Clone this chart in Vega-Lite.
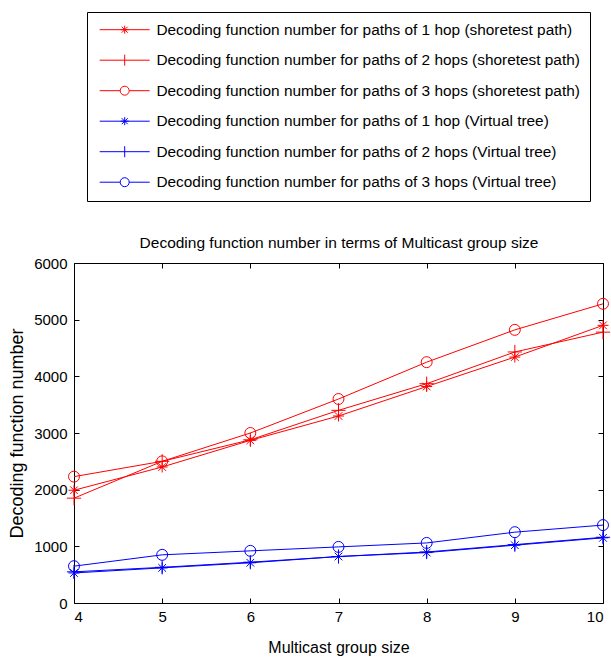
{
  "$schema": "https://vega.github.io/schema/vega-lite/v6.json",
  "width": 529,
  "height": 340,
  "autosize": {"type": "none"},
  "padding": {"left": 74, "top": 263, "right": 8, "bottom": 57},
  "background": "white",
  "config": {
    "font": "Liberation Sans",
    "view": {"stroke": "black", "strokeWidth": 1},
    "axis": {
      "grid": false,
      "domain": false,
      "tickColor": "black",
      "tickSize": -5,
      "labelColor": "black",
      "titleColor": "black",
      "labelFontSize": 15,
      "titleFontSize": 16,
      "titleFontWeight": "normal",
      "labelFont": "Liberation Sans",
      "titleFont": "Liberation Sans"
    }
  },
  "data": {
    "values": [
      {"s": "Decoding function number for paths of 1 hop (shoretest path)", "hops": 1, "n": 4, "v": 1990},
      {"s": "Decoding function number for paths of 1 hop (shoretest path)", "hops": 1, "n": 5, "v": 2400},
      {"s": "Decoding function number for paths of 1 hop (shoretest path)", "hops": 1, "n": 6, "v": 2870},
      {"s": "Decoding function number for paths of 1 hop (shoretest path)", "hops": 1, "n": 7, "v": 3300},
      {"s": "Decoding function number for paths of 1 hop (shoretest path)", "hops": 1, "n": 8, "v": 3820},
      {"s": "Decoding function number for paths of 1 hop (shoretest path)", "hops": 1, "n": 9, "v": 4340},
      {"s": "Decoding function number for paths of 1 hop (shoretest path)", "hops": 1, "n": 10, "v": 4900},
      {"s": "Decoding function number for paths of 2 hops (shoretest path)", "hops": 2, "n": 4, "v": 1850},
      {"s": "Decoding function number for paths of 2 hops (shoretest path)", "hops": 2, "n": 5, "v": 2500},
      {"s": "Decoding function number for paths of 2 hops (shoretest path)", "hops": 2, "n": 6, "v": 2880},
      {"s": "Decoding function number for paths of 2 hops (shoretest path)", "hops": 2, "n": 7, "v": 3400},
      {"s": "Decoding function number for paths of 2 hops (shoretest path)", "hops": 2, "n": 8, "v": 3870},
      {"s": "Decoding function number for paths of 2 hops (shoretest path)", "hops": 2, "n": 9, "v": 4430},
      {"s": "Decoding function number for paths of 2 hops (shoretest path)", "hops": 2, "n": 10, "v": 4780},
      {"s": "Decoding function number for paths of 3 hops (shoretest path)", "hops": 3, "n": 4, "v": 2230},
      {"s": "Decoding function number for paths of 3 hops (shoretest path)", "hops": 3, "n": 5, "v": 2500},
      {"s": "Decoding function number for paths of 3 hops (shoretest path)", "hops": 3, "n": 6, "v": 3000},
      {"s": "Decoding function number for paths of 3 hops (shoretest path)", "hops": 3, "n": 7, "v": 3600},
      {"s": "Decoding function number for paths of 3 hops (shoretest path)", "hops": 3, "n": 8, "v": 4250},
      {"s": "Decoding function number for paths of 3 hops (shoretest path)", "hops": 3, "n": 9, "v": 4820},
      {"s": "Decoding function number for paths of 3 hops (shoretest path)", "hops": 3, "n": 10, "v": 5280},
      {"s": "Decoding function number for paths of 1 hop (Virtual tree)", "hops": 1, "n": 4, "v": 530},
      {"s": "Decoding function number for paths of 1 hop (Virtual tree)", "hops": 1, "n": 5, "v": 620},
      {"s": "Decoding function number for paths of 1 hop (Virtual tree)", "hops": 1, "n": 6, "v": 710},
      {"s": "Decoding function number for paths of 1 hop (Virtual tree)", "hops": 1, "n": 7, "v": 820},
      {"s": "Decoding function number for paths of 1 hop (Virtual tree)", "hops": 1, "n": 8, "v": 890},
      {"s": "Decoding function number for paths of 1 hop (Virtual tree)", "hops": 1, "n": 9, "v": 1020},
      {"s": "Decoding function number for paths of 1 hop (Virtual tree)", "hops": 1, "n": 10, "v": 1150},
      {"s": "Decoding function number for paths of 2 hops (Virtual tree)", "hops": 2, "n": 4, "v": 550},
      {"s": "Decoding function number for paths of 2 hops (Virtual tree)", "hops": 2, "n": 5, "v": 630},
      {"s": "Decoding function number for paths of 2 hops (Virtual tree)", "hops": 2, "n": 6, "v": 720},
      {"s": "Decoding function number for paths of 2 hops (Virtual tree)", "hops": 2, "n": 7, "v": 820},
      {"s": "Decoding function number for paths of 2 hops (Virtual tree)", "hops": 2, "n": 8, "v": 900},
      {"s": "Decoding function number for paths of 2 hops (Virtual tree)", "hops": 2, "n": 9, "v": 1030},
      {"s": "Decoding function number for paths of 2 hops (Virtual tree)", "hops": 2, "n": 10, "v": 1160},
      {"s": "Decoding function number for paths of 3 hops (Virtual tree)", "hops": 3, "n": 4, "v": 650},
      {"s": "Decoding function number for paths of 3 hops (Virtual tree)", "hops": 3, "n": 5, "v": 850},
      {"s": "Decoding function number for paths of 3 hops (Virtual tree)", "hops": 3, "n": 6, "v": 920},
      {"s": "Decoding function number for paths of 3 hops (Virtual tree)", "hops": 3, "n": 7, "v": 990},
      {"s": "Decoding function number for paths of 3 hops (Virtual tree)", "hops": 3, "n": 8, "v": 1060},
      {"s": "Decoding function number for paths of 3 hops (Virtual tree)", "hops": 3, "n": 9, "v": 1250},
      {"s": "Decoding function number for paths of 3 hops (Virtual tree)", "hops": 3, "n": 10, "v": 1375}
    ]
  },
  "layer": [
    {
      "mark": {"type": "line", "strokeWidth": 1, "clip": true},
      "encoding": {
        "x": {
          "field": "n", "type": "quantitative",
          "scale": {"domain": [4, 10], "nice": false},
          "axis": {"values": [4, 5, 6, 7, 8, 9, 10], "format": "d", "title": "Multicast group size", "labelPadding": 11, "titlePadding": 15}
        },
        "y": {
          "field": "v", "type": "quantitative",
          "scale": {"domain": [0, 6000], "nice": false},
          "axis": {"values": [0, 1000, 2000, 3000, 4000, 5000, 6000], "format": "d", "title": "Decoding function number", "titleFontSize": 18, "labelPadding": 12, "titlePadding": 7}
        },
        "color": {
          "field": "s", "type": "nominal",
          "scale": {
            "domain": [
              "Decoding function number for paths of 1 hop (shoretest path)",
              "Decoding function number for paths of 2 hops (shoretest path)",
              "Decoding function number for paths of 3 hops (shoretest path)",
              "Decoding function number for paths of 1 hop (Virtual tree)",
              "Decoding function number for paths of 2 hops (Virtual tree)",
              "Decoding function number for paths of 3 hops (Virtual tree)"
            ],
            "range": ["#ff0000", "#ff0000", "#ff0000", "#0000ff", "#0000ff", "#0000ff"]
          },
          "legend": {
            "orient": "none",
            "legendX": 13,
            "legendY": -251,
            "title": null,
            "strokeColor": "black",
            "fillColor": "white",
            "padding": 10,
            "rowPadding": 13.5,
            "labelFontSize": 15.4,
            "labelColor": "black",
            "labelFont": "Liberation Sans",
            "labelLimit": 600,
            "symbolSize": 100,
            "symbolOffset": 20,
            "labelOffset": 24,
            "symbolStrokeWidth": 1,
            "symbolFillColor": "transparent",
            "encode": {
              "symbols": {
                "update": {
                  "shape": {"signal": "indexof(datum.value, '3 hops') >= 0 ? 'M-5,0L-0.9,0M0.9,0L5,0M0.9,0A0.9,0.9 0 1 1 -0.9,0A0.9,0.9 0 1 1 0.9,0' : (indexof(datum.value, '2 hops') >= 0 ? 'M-5,0L5,0M0,-1.1L0,1.1' : 'M-5,0L5,0M0,-0.8L0,0.8M-0.8,0L0.8,0M-0.6,-0.6L0.6,0.6M-0.6,0.6L0.6,-0.6')"},
                  "fill": {"value": "transparent"}
                }
              }
            }
          }
        }
      }
    },
    {
      "mark": {"type": "point", "filled": false, "strokeWidth": 1, "opacity": 1},
      "encoding": {
        "x": {"field": "n", "type": "quantitative", "axis": {"orient": "top", "values": [4, 5, 6, 7, 8, 9, 10], "labels": false, "title": "Decoding function number in terms of Multicast group size", "titleFontSize": 15.5, "titlePadding": 12}},
        "y": {"field": "v", "type": "quantitative", "axis": {"orient": "right", "values": [0, 1000, 2000, 3000, 4000, 5000, 6000], "labels": false, "title": null}},
        "color": {"field": "s", "type": "nominal", "legend": null},
        "shape": {
          "field": "hops", "type": "nominal", "legend": null,
          "scale": {
            "domain": [1, 2, 3],
            "range": [
              "M0,-1L0,1M-1,0L1,0M-0.7,-0.7L0.7,0.7M-0.7,0.7L0.7,-0.7",
              "M0,-1.3L0,1.3M-1.3,0L1.3,0",
              "circle"
            ]
          }
        },
        "size": {"value": 120}
      }
    }
  ],
  "resolve": {"axis": {"x": "independent", "y": "independent"}}
}
